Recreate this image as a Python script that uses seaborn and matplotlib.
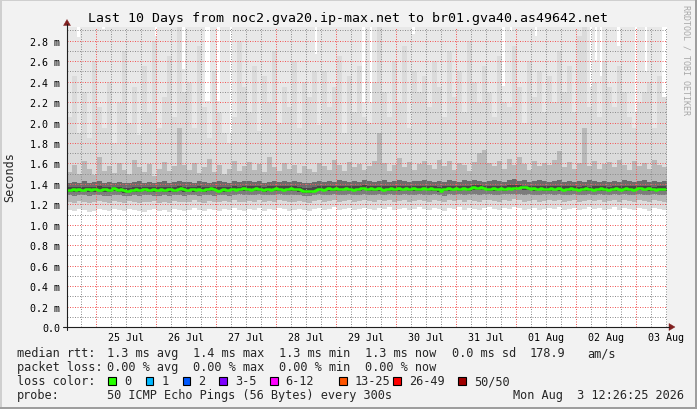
import numpy as np
import pandas as pd
import matplotlib
matplotlib.use("Agg")
import matplotlib.pyplot as plt
import matplotlib.transforms as mtransforms
from matplotlib.lines import Line2D
from matplotlib.patches import Rectangle, Polygon
import seaborn as sns

# ---------------- data (ms) ----------------
title = "Last 10 Days from noc2.gva20.ip-max.net to br01.gva40.as49642.net"
start_time = "2026-07-24 12:26:25"
day_labels = ["25 Jul", "26 Jul", "27 Jul", "28 Jul", "29 Jul",
              "30 Jul", "31 Jul", "01 Aug", "02 Aug", "03 Aug"]
first_day = "2026-07-25"
ytick_vals = [0.0, 0.2, 0.4, 0.6, 0.8, 1.0, 1.2, 1.4, 1.6, 1.8, 2.0, 2.2, 2.4, 2.6, 2.8]
ytick_labels = ["0.0", "0.2 m", "0.4 m", "0.6 m", "0.8 m", "1.0 m", "1.2 m", "1.4 m",
                "1.6 m", "1.8 m", "2.0 m", "2.2 m", "2.4 m", "2.6 m", "2.8 m"]

# hourly median rtt
median_ms = [
    1.34,1.34,1.35,1.34,1.35,1.34,1.34,1.35,1.35,1.34,1.35,1.35,1.34,1.34,1.35,1.35,1.34,1.34,1.36,1.35,1.34,1.35,1.34,1.33,
    1.33,1.34,1.34,1.35,1.34,1.34,1.35,1.35,1.34,1.34,1.35,1.34,1.34,1.35,1.34,1.34,1.35,1.35,1.34,1.34,1.35,1.36,1.35,1.34,
    1.34,1.35,1.35,1.34,1.35,1.34,1.34,1.35,1.35,1.36,1.35,1.34,1.33,1.34,1.35,1.34,1.34,1.35,1.35,1.34,1.35,1.35,1.36,1.35,
    1.35,1.34,1.35,1.36,1.35,1.35,1.34,1.35,1.35,1.34,1.35,1.36,1.35,1.35,1.34,1.35,1.35,1.36,1.35,1.35,1.35,1.34,1.33,1.33,
    1.33,1.33,1.33,1.34,1.35,1.35,1.34,1.35,1.36,1.35,1.35,1.36,1.35,1.35,1.35,1.36,1.35,1.35,1.34,1.35,1.35,1.36,1.36,1.35,
    1.35,1.36,1.35,1.35,1.36,1.35,1.34,1.35,1.35,1.36,1.35,1.35,1.36,1.35,1.35,1.36,1.35,1.35,1.36,1.35,1.35,1.35,1.36,1.35,
    1.35,1.36,1.35,1.35,1.35,1.33,1.35,1.35,1.36,1.35,1.35,1.36,1.35,1.35,1.36,1.35,1.35,1.36,1.37,1.36,1.36,1.37,1.36,1.35,
    1.35,1.35,1.36,1.35,1.35,1.36,1.35,1.35,1.36,1.35,1.36,1.36,1.36,1.37,1.37,1.37,1.36,1.35,1.36,1.35,1.35,1.36,1.35,1.35,
    1.35,1.36,1.35,1.35,1.36,1.35,1.34,1.35,1.35,1.36,1.35,1.35,1.34,1.35,1.35,1.36,1.35,1.35,1.34,1.35,1.35,1.36,1.35,1.35,
    1.34,1.35,1.35,1.36,1.35,1.34,1.35,1.36,1.35,1.35,1.34,1.35,1.36,1.36,1.35,1.35,1.36,1.35,1.35,1.34,1.35,1.35,1.35,np.nan,
]

# hourly highest ping (values above the chart top read as 3.0)
max_ms = [
    3.0,3.0,3.0,3.0,2.84,3.0,3.0,3.0,3.0,3.0,3.0,3.0,3.0,3.0,2.91,3.0,3.0,3.0,3.0,3.0,3.0,3.0,3.0,3.0,
    3.0,3.0,3.0,3.0,3.0,3.0,3.0,3.0,3.0,3.0,3.0,2.85,3.0,3.0,3.0,3.0,3.0,3.0,3.0,3.0,3.0,3.0,2.52,3.0,
    3.0,3.0,3.0,3.0,3.0,3.0,3.0,2.21,2.21,3.0,3.0,3.0,2.21,3.0,3.0,3.0,3.0,1.90,3.0,3.0,3.0,3.0,3.0,3.0,
    3.0,3.0,3.0,3.0,3.0,3.0,3.0,3.0,3.0,3.0,3.0,3.0,3.0,3.0,3.0,3.0,3.0,3.0,3.0,3.0,3.0,3.0,3.0,3.0,
    3.0,3.0,3.0,2.67,3.0,3.0,3.0,3.0,3.0,3.0,3.0,3.0,3.0,3.0,3.0,3.0,3.0,3.0,3.0,3.0,3.0,3.0,2.20,3.0,
    3.0,2.20,3.0,3.0,3.0,3.0,3.0,3.0,3.0,3.0,3.0,3.0,3.0,3.0,3.0,3.0,3.0,3.0,2.87,3.0,3.0,3.0,3.0,3.0,
    3.0,3.0,3.0,3.0,3.0,3.0,3.0,3.0,3.0,3.0,2.95,3.0,3.0,3.0,3.0,3.0,3.0,3.0,3.0,3.0,3.0,3.0,3.0,3.0,
    3.0,3.0,3.0,3.0,3.0,3.0,2.36,3.0,3.0,2.89,3.0,3.0,3.0,3.0,3.0,3.0,3.0,3.0,3.0,2.85,3.0,3.0,3.0,3.0,
    3.0,3.0,3.0,3.0,3.0,3.0,3.0,3.0,3.0,3.0,3.0,3.0,3.0,3.0,3.0,3.0,3.0,2.35,3.0,2.61,3.0,2.45,3.0,3.0,
    3.0,3.0,3.0,3.0,2.75,3.0,3.0,3.0,3.0,3.0,3.0,2.10,3.0,3.0,3.0,2.50,3.0,3.0,3.0,3.0,3.0,3.0,3.0,np.nan,
]

# 2-hourly ping quantiles
min_ms = [
    1.14,1.13,1.15,1.14,1.12,1.13,1.15,1.14,1.13,1.15,1.14,1.13,
    1.15,1.14,1.13,1.12,1.14,1.15,1.13,1.14,1.12,1.15,1.14,1.13,
    1.14,1.16,1.14,1.13,1.15,1.14,1.13,1.15,1.14,1.16,1.14,1.13,
    1.15,1.14,1.16,1.13,1.15,1.14,1.16,1.15,1.13,1.14,1.15,1.14,
    1.13,1.15,1.16,1.14,1.15,1.17,1.14,1.15,1.16,1.14,1.15,1.16,
    1.15,1.14,1.16,1.15,1.17,1.14,1.15,1.16,1.14,1.15,1.17,1.15,
    1.14,1.16,1.15,1.13,1.16,1.15,1.17,1.14,1.16,1.15,1.14,1.16,
    1.17,1.15,1.14,1.16,1.15,1.17,1.16,1.14,1.15,1.16,1.14,1.15,
    1.16,1.15,1.17,1.14,1.15,1.16,1.14,1.15,1.17,1.15,1.16,1.14,
    1.15,1.17,1.14,1.16,1.15,1.14,1.16,1.15,1.13,1.16,1.15,1.14,
]
p10_ms = [
    1.22,1.21,1.23,1.22,1.21,1.22,1.23,1.22,1.21,1.23,1.22,1.21,
    1.23,1.22,1.21,1.22,1.22,1.23,1.21,1.22,1.21,1.23,1.22,1.22,
    1.22,1.24,1.22,1.21,1.23,1.22,1.22,1.23,1.22,1.24,1.22,1.22,
    1.23,1.22,1.24,1.22,1.23,1.22,1.24,1.23,1.22,1.22,1.23,1.22,
    1.21,1.23,1.24,1.22,1.23,1.24,1.22,1.23,1.24,1.22,1.23,1.24,
    1.23,1.22,1.24,1.23,1.24,1.22,1.23,1.24,1.22,1.23,1.24,1.23,
    1.22,1.24,1.23,1.22,1.24,1.23,1.24,1.22,1.24,1.23,1.22,1.24,
    1.24,1.23,1.22,1.24,1.23,1.25,1.24,1.22,1.23,1.24,1.22,1.23,
    1.24,1.23,1.24,1.22,1.23,1.24,1.22,1.23,1.24,1.23,1.24,1.22,
    1.23,1.24,1.22,1.24,1.23,1.22,1.24,1.23,1.22,1.24,1.23,1.22,
]
p25_ms = [
    1.29,1.28,1.29,1.29,1.28,1.29,1.29,1.28,1.28,1.29,1.29,1.28,
    1.28,1.29,1.28,1.29,1.29,1.28,1.28,1.29,1.28,1.29,1.29,1.28,
    1.29,1.29,1.28,1.29,1.29,1.28,1.29,1.29,1.28,1.29,1.30,1.29,
    1.29,1.29,1.30,1.29,1.29,1.29,1.30,1.29,1.29,1.29,1.29,1.28,
    1.28,1.29,1.30,1.29,1.29,1.30,1.29,1.29,1.30,1.29,1.29,1.30,
    1.29,1.29,1.30,1.29,1.30,1.29,1.29,1.30,1.29,1.29,1.30,1.29,
    1.29,1.30,1.29,1.28,1.30,1.29,1.30,1.29,1.30,1.30,1.29,1.30,
    1.30,1.29,1.29,1.30,1.30,1.30,1.30,1.29,1.30,1.29,1.29,1.30,
    1.30,1.29,1.30,1.29,1.29,1.30,1.29,1.29,1.30,1.29,1.30,1.29,
    1.29,1.30,1.29,1.30,1.29,1.29,1.30,1.29,1.29,1.30,1.29,1.29,
]
p40_ms = [
    1.32,1.32,1.32,1.33,1.32,1.32,1.33,1.32,1.32,1.33,1.32,1.31,
    1.32,1.32,1.32,1.33,1.32,1.32,1.33,1.32,1.32,1.32,1.33,1.32,
    1.33,1.32,1.33,1.32,1.33,1.33,1.32,1.32,1.33,1.33,1.33,1.33,
    1.33,1.33,1.33,1.32,1.33,1.33,1.33,1.33,1.33,1.33,1.32,1.31,
    1.31,1.32,1.33,1.33,1.33,1.33,1.33,1.34,1.33,1.33,1.33,1.34,
    1.33,1.33,1.33,1.34,1.33,1.33,1.33,1.34,1.33,1.33,1.33,1.34,
    1.33,1.33,1.32,1.33,1.33,1.34,1.33,1.34,1.33,1.34,1.34,1.34,
    1.33,1.33,1.34,1.33,1.34,1.34,1.35,1.34,1.34,1.33,1.34,1.33,
    1.33,1.34,1.33,1.33,1.33,1.34,1.33,1.33,1.33,1.34,1.33,1.33,
    1.33,1.33,1.34,1.33,1.33,1.33,1.34,1.34,1.33,1.33,1.33,1.33,
]
p60_ms = [
    1.37,1.37,1.37,1.37,1.37,1.37,1.38,1.37,1.37,1.37,1.37,1.36,
    1.36,1.37,1.37,1.37,1.37,1.37,1.37,1.37,1.37,1.37,1.38,1.37,
    1.37,1.37,1.38,1.37,1.37,1.37,1.37,1.37,1.37,1.38,1.37,1.38,
    1.38,1.38,1.38,1.37,1.38,1.38,1.38,1.38,1.38,1.38,1.37,1.36,
    1.36,1.37,1.38,1.38,1.38,1.38,1.38,1.38,1.38,1.38,1.38,1.39,
    1.38,1.38,1.38,1.38,1.38,1.38,1.38,1.38,1.38,1.38,1.38,1.38,
    1.38,1.38,1.37,1.38,1.38,1.38,1.38,1.38,1.38,1.39,1.39,1.38,
    1.38,1.38,1.38,1.38,1.39,1.39,1.39,1.38,1.38,1.38,1.38,1.38,
    1.38,1.38,1.38,1.38,1.38,1.38,1.37,1.38,1.37,1.38,1.38,1.38,
    1.37,1.38,1.38,1.38,1.38,1.38,1.38,1.38,1.38,1.37,1.38,1.38,
]
p75_ms = [
    1.41,1.42,1.41,1.43,1.41,1.42,1.43,1.41,1.42,1.41,1.42,1.41,
    1.41,1.42,1.43,1.41,1.42,1.41,1.42,1.43,1.41,1.42,1.43,1.42,
    1.42,1.41,1.43,1.42,1.41,1.42,1.43,1.42,1.41,1.43,1.42,1.43,
    1.43,1.42,1.43,1.41,1.42,1.43,1.42,1.43,1.42,1.43,1.42,1.41,
    1.41,1.42,1.43,1.42,1.43,1.42,1.44,1.43,1.42,1.43,1.42,1.44,
    1.43,1.42,1.43,1.44,1.42,1.43,1.44,1.43,1.42,1.43,1.43,1.44,
    1.43,1.42,1.43,1.42,1.44,1.43,1.42,1.44,1.43,1.44,1.43,1.42,
    1.43,1.44,1.43,1.42,1.44,1.45,1.43,1.44,1.42,1.43,1.44,1.43,
    1.42,1.43,1.44,1.42,1.43,1.42,1.43,1.42,1.44,1.43,1.42,1.43,
    1.42,1.43,1.42,1.44,1.43,1.42,1.43,1.44,1.42,1.43,1.42,1.43,
]
p90_ms = [
    1.52,1.58,1.50,1.62,1.55,1.49,1.66,1.53,1.57,1.51,1.60,1.54,
    1.50,1.63,1.56,1.52,1.59,1.48,1.55,1.61,1.53,1.57,1.95,1.58,
    1.54,1.60,1.51,1.56,1.64,1.52,1.58,1.50,1.55,1.62,1.53,1.57,
    1.61,1.54,1.59,1.52,1.66,1.56,1.53,1.60,1.55,1.58,1.51,1.57,
    1.55,1.52,1.60,1.57,1.54,1.63,1.58,1.53,1.61,1.56,1.59,1.54,
    1.57,1.62,1.90,1.60,1.53,1.58,1.65,1.56,1.61,1.54,1.59,1.62,
    1.58,1.55,1.63,1.57,1.62,1.54,1.60,1.58,1.53,1.61,1.70,1.73,
    1.60,1.57,1.62,1.55,1.64,1.58,1.66,1.59,1.54,1.62,1.57,1.60,
    1.58,1.63,1.72,1.56,1.61,1.55,1.60,1.95,1.57,1.62,1.55,1.59,
    1.61,1.56,1.63,1.58,1.54,1.62,1.57,1.60,1.55,1.63,1.58,1.56,
]
p95_ms = [
    2.05,2.45,1.90,2.30,1.85,2.60,2.15,1.95,2.40,1.80,2.20,2.70,
    2.00,2.35,1.88,2.55,2.10,2.80,1.95,2.25,2.65,2.05,3.00,2.30,
    2.40,1.95,2.75,2.15,1.85,2.50,2.10,1.90,1.80,2.05,2.80,2.35,
    2.10,2.55,1.92,2.45,2.20,2.70,2.00,2.35,2.15,2.60,1.95,2.40,
    2.25,2.50,1.98,2.50,2.15,2.35,2.65,1.90,2.45,2.10,2.55,2.05,
    2.00,2.40,3.00,2.30,2.05,2.60,2.20,2.75,1.95,2.50,2.30,2.45,
    2.15,2.60,2.35,2.05,2.70,2.25,2.50,2.10,2.80,2.40,2.20,2.55,
    2.30,2.05,2.65,2.20,2.15,2.75,2.35,2.00,2.60,2.25,2.50,2.10,
    2.45,2.20,2.70,2.30,2.55,2.10,2.85,3.00,2.15,2.40,2.05,2.60,
    2.35,2.15,2.55,2.30,2.05,1.95,2.20,2.30,2.40,1.95,2.45,2.25,
]

legend_row1 = ["median rtt:", "1.3 ms avg", "1.4 ms max", "1.3 ms min", "1.3 ms now",
               "0.0 ms sd", "178.9", "am/s"]
legend_row2 = ["packet loss:", "0.00 % avg", "0.00 % max", "0.00 % min", "0.00 % now"]
loss_labels = ["0", "1", "2", "3-5", "6-12", "13-25", "26-49", "50/50"]
loss_colors = ["#26ff00", "#00b8ff", "#0059ff", "#7e00ff", "#ff00ff", "#ff5500", "#ff0000", "#a10000"]
probe_text = "50 ICMP Echo Pings (56 Bytes) every 300s"
stamp_text = "Mon Aug  3 12:26:25 2026"

# ---------------- layout ----------------
sns.set_theme(style="white")
plt.rcParams["font.family"] = ["DejaVu Sans Mono", "DejaVu Sans"]

W, H = 697, 410
L, R, T, B = 67, 667, 28, 328
YMAX = 2.934
BG = "#f2f2f2"
GRID = (0.56, 0.56, 0.56, 0.34)
MGRID = (0.95, 0.35, 0.35, 0.32)
ARROW = "#801f1f"
AXIS = "#1f1f1f"

fig = plt.figure(figsize=(W / 100, H / 100), dpi=100, facecolor=BG)
ax = fig.add_axes([L / W, 1 - B / H, (R - L) / W, (B - T) / H])
ax.set_facecolor("white")

def px(x, y):
    return x / W, 1 - y / H

# ---------------- smoke ----------------
n2 = len(min_ms)
x2 = np.arange(n2 + 1) * 2.0
x1 = np.arange(len(max_ms) + 1) * 1.0

def ext(a):
    a = np.asarray(a, dtype=float)
    return np.append(a, a[-1])

bands = [
    (min_ms, p10_ms, "#dcdcdc"),
    (p10_ms, p25_ms, "#b6b6b6"),
    (p25_ms, p40_ms, "#7c7c7c"),
    (p40_ms, p60_ms, "#474747"),
    (p60_ms, p75_ms, "#6c6c6c"),
    (p75_ms, p90_ms, "#b9b9b9"),
    (p90_ms, p95_ms, "#dbdbdb"),
]
for lo, hi, col in bands:
    ax.fill_between(x2, ext(lo), ext(hi), step="post", color=col,
                    linewidth=0, antialiased=False, zorder=1)
top_lo = np.repeat(np.asarray(p95_ms), 2)
ax.fill_between(x1, ext(top_lo), ext(max_ms), step="post", color="#e8e8e8",
                linewidth=0, antialiased=False, zorder=1)

# median line
med = np.asarray(median_ms, dtype=float)
hrs = np.arange(len(med), dtype=float)
ok = ~np.isnan(med)
xm = np.append(hrs[ok], hrs[ok][-1] + 1)
ym = np.append(med[ok], med[ok][-1])
sns.lineplot(x=xm, y=ym, ax=ax, color="#26ff00", linewidth=1.8,
             drawstyle="steps-post", zorder=4, estimator=None, sort=False)

# ---------------- axes / grid ----------------
t0 = pd.Timestamp(start_time)
days = pd.date_range(first_day, periods=len(day_labels), freq="D")
midnights = ((days - t0) / pd.Timedelta(hours=1)).values.astype(float)
noons = midnights + 12.0
six = np.arange(midnights[0] - 6.0, 240.0, 6.0)

ax.set_xlim(0, 240)
ax.set_ylim(0, YMAX)
ax.set_xticks(midnights)
ax.set_xticks(six, minor=True)
ax.set_xticklabels([])
ax.set_yticks(ytick_vals)
ax.set_yticklabels(ytick_labels)
ax.set_yticks(np.arange(0.1, YMAX, 0.2), minor=True)
ax.set_axisbelow(False)
ax.grid(which="major", color=MGRID, linestyle=(0, (1, 1.5)), linewidth=0.72)
ax.grid(which="minor", color=GRID, linestyle=(0, (1, 1.5)), linewidth=0.72)
ax.tick_params(which="major", direction="out", length=2.5, width=0.72, color=MGRID,
               labelsize=7.2, pad=2.4, labelcolor="black")
ax.tick_params(which="minor", direction="out", length=2.0, width=0.72, color=GRID)
for s in ax.spines.values():
    s.set_visible(False)
ax.set_xlabel("")
ax.set_ylabel("")

trans = mtransforms.blended_transform_factory(ax.transData, fig.transFigure)
for xh, lab in zip(noons, day_labels):
    ax.text(xh, 1 - 338 / H, lab, transform=trans, ha="center", va="center",
            fontsize=7.2, color="black", clip_on=False)

# axis lines and arrows
fig.add_artist(Line2D([L / W, L / W], [1 - 330.5 / H, 1 - 25 / H], color=AXIS, lw=0.8))
fig.add_artist(Line2D([63 / W, 669 / W], [1 - 328 / H, 1 - 328 / H], color=AXIS, lw=0.8))
fig.add_artist(Polygon([px(63.5, 26.5), px(70.5, 26.5), px(67, 20.5)], closed=True,
                       facecolor=ARROW, edgecolor=ARROW, lw=0.3))
fig.add_artist(Polygon([px(669, 324.5), px(669, 331.5), px(675, 328)], closed=True,
                       facecolor=ARROW, edgecolor=ARROW, lw=0.3))

# ---------------- texts ----------------
fig.text(*px(347.5, 18.5), title, ha="center", va="center", fontsize=9.5, color="black")
fig.text(*px(10, 177), "Seconds", rotation=90, ha="center", va="center", fontsize=8.5)
fig.text(*px(686, 60), "RRDTOOL / TOBI OETIKER", rotation=270, ha="center", va="center",
         fontsize=6.0, color="#a8a8a8")

LF = 8.6
row_y = [354, 368, 382, 396]
row1_x = [17, 107, 193, 279, 365, 452, 530, 587]
for xx, s in zip(row1_x, legend_row1):
    fig.text(*px(xx, row_y[0]), s, ha="left", va="center", fontsize=LF)
row2_x = [17, 107, 193, 279, 365]
for xx, s in zip(row2_x, legend_row2):
    fig.text(*px(xx, row_y[1]), s, ha="left", va="center", fontsize=LF)
fig.text(*px(17, row_y[2]), "loss color:", ha="left", va="center", fontsize=LF)
box_x = [108.3, 145.7, 182.7, 219.3, 270.0, 339.3, 393.3, 458.3]
bs = 7.7
for xx, lab, col in zip(box_x, loss_labels, loss_colors):
    fig.add_artist(Rectangle(px(xx, row_y[2] + bs / 2), bs / W, bs / H,
                             facecolor=col, edgecolor="black", lw=0.8))
    fig.text(*px(xx + 15.5, row_y[2]), lab, ha="left", va="center", fontsize=LF)
fig.text(*px(17, row_y[3]), "probe:", ha="left", va="center", fontsize=LF)
fig.text(*px(107, row_y[3]), probe_text, ha="left", va="center", fontsize=LF)
fig.text(*px(513, row_y[3]), stamp_text, ha="left", va="center", fontsize=LF)

# frame (shade A top/left, shade B bottom/right)
fig.add_artist(Rectangle((0, 1 - 2 / H), 1, 2 / H, facecolor="#cfcfcf", lw=0))
fig.add_artist(Rectangle((0, 0), 2 / W, 1, facecolor="#cfcfcf", lw=0))
fig.add_artist(Rectangle((0, 0), 1, 2 / H, facecolor="#9e9e9e", lw=0))
fig.add_artist(Rectangle((1 - 2 / W, 0), 2 / W, 1, facecolor="#9e9e9e", lw=0))

fig.savefig("out.png", dpi=100, facecolor=BG)
